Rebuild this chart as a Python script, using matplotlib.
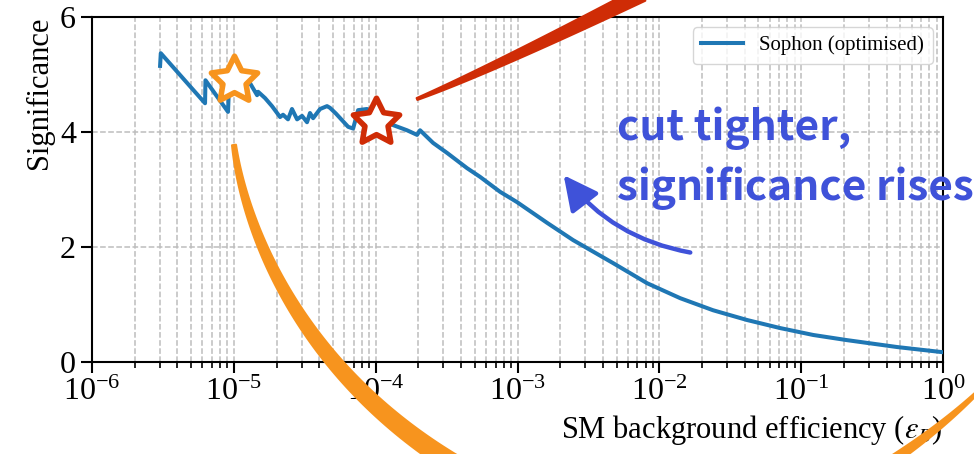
# Sophon significance vs SM background efficiency, with hand-drawn annotations.

import numpy as np
import matplotlib
matplotlib.use('Agg')
import matplotlib.pyplot as plt
from matplotlib.markers import MarkerStyle
from matplotlib.patches import Polygon, FancyArrowPatch

# log10 of the background efficiency and the significance
log_eff = [-5.52, -5.515, -5.203, -5.200, -5.041, -5.030, -4.886, -4.836, -4.829, -4.780,
           -4.731, -4.674, -4.653, -4.618, -4.590, -4.554, -4.519, -4.484, -4.463, -4.441,
           -4.392, -4.343, -4.322, -4.280, -4.194, -4.159, -4.124, -4.061, -3.969, -3.877,
           -3.779, -3.708, -3.687, -3.595, -3.496, -3.355, -3.264, -3.123, -3.003, -2.791,
           -2.608, -2.326, -2.086, -1.853, -1.621, -1.381, -1.148, -0.915, -0.676, -0.323,
           0.0]
signif = [5.15, 5.37, 4.50, 4.90, 4.35, 5.05, 4.85, 4.64, 4.70, 4.59,
          4.45, 4.26, 4.30, 4.22, 4.40, 4.22, 4.28, 4.17, 4.33, 4.24,
          4.40, 4.45, 4.42, 4.32, 4.09, 4.06, 4.38, 4.40, 4.30, 4.12,
          4.03, 3.95, 4.03, 3.81, 3.635, 3.37, 3.22, 2.96, 2.78, 2.42,
          2.12, 1.72, 1.37, 1.11, 0.90, 0.73, 0.59, 0.47, 0.38, 0.26,
          0.17]
label = 'Sophon (optimised)'

# the two highlighted working points
star_x = [1e-5, 1e-4]
star_y = [4.90, 4.17]

plt.rcParams['font.family'] = 'serif'
plt.rcParams['font.serif'] = ['Liberation Serif', 'DejaVu Serif']
plt.rcParams['mathtext.fontset'] = 'stix'

W, H = 974, 454
ORANGE, RED, BLUE = '#f7941e', '#cf2c06', '#3f52d9'

fig = plt.figure(figsize=(W / 100, H / 100), dpi=100)
ax = fig.add_axes([92 / W, 1 - 362 / H, (943 - 92) / W, (362 - 17) / H])

eff = 10.0 ** np.array(log_eff)
ax.plot(eff, signif, color='#1f77b4', lw=2.9, label=label, zorder=3)
star = MarkerStyle((5, 1, 0), joinstyle='round')
ax.plot(star_x[:1], star_y[:1], ls='none', marker=star, ms=35, mfc='white',
        mec=ORANGE, mew=4.0, zorder=5)
ax.plot(star_x[1:], star_y[1:], ls='none', marker=star, ms=35, mfc='white',
        mec=RED, mew=4.0, zorder=5)

ax.set_xscale('log')
ax.set_xlim(1e-6, 1)
ax.set_ylim(0, 6)
ax.set_yticks([0, 2, 4, 6])
ax.grid(True, which='both', axis='x', ls='--', color='#bdbdbd', lw=1.1)
ax.grid(True, which='major', axis='y', ls='--', color='#bdbdbd', lw=1.1)
ax.tick_params(which='major', length=8, width=1.5, labelsize=23)
ax.tick_params(which='minor', length=4.5, width=1.2)
for s in ax.spines.values():
    s.set_linewidth(1.5)
ax.set_xlabel(r'SM background efficiency ($\varepsilon_B$)', fontsize=22, loc='right')
ax.set_ylabel('Significance', fontsize=22, loc='top')
ax.legend(loc='upper right', fontsize=15)

#
# annotations, in picture pixels (y down)
#

def brush(pts, w0, w1, color):
    p = np.array(pts, float)
    t = np.linspace(0, 1, 80)[:, None]
    c = (1 - t)**3 * p[0] + 3 * (1 - t)**2 * t * p[1] + 3 * (1 - t) * t**2 * p[2] + t**3 * p[3]
    d = np.gradient(c, axis=0)
    n = np.c_[-d[:, 1], d[:, 0]] / np.hypot(d[:, 0], d[:, 1])[:, None]
    w = (w0 + (w1 - w0) * t) / 2
    poly = np.vstack([c + n * w, (c - n * w)[::-1]])
    poly[:, 0] /= W
    poly[:, 1] = 1 - poly[:, 1] / H
    fig.add_artist(Polygon(poly, closed=True, transform=fig.transFigure,
                           fc=color, ec=color, lw=1.5, joinstyle='round', zorder=10))

brush([(234, 145), (245, 230), (300, 370), (455, 465)], 4, 19, ORANGE)
brush([(985, 385), (960, 410), (930, 435), (893, 460)], 2, 9, ORANGE)
brush([(417, 99), (470, 78), (560, 35), (642, -6)], 2, 15, RED)

arr = FancyArrowPatch((693 / W, 1 - 253 / H), (562 / W, 1 - 173 / H),
                      transform=fig.transFigure, connectionstyle='arc3,rad=-0.2',
                      arrowstyle='-|>,head_length=1.0,head_width=0.5',
                      mutation_scale=21, lw=3.2, color=BLUE, zorder=11)
fig.add_artist(arr)

txt = dict(family=['Noto Sans CJK SC', 'DejaVu Sans'], weight='bold', fontsize=30.5,
           color=BLUE, va='baseline', zorder=12)
fig.text(617 / W, 1 - 140 / H, 'cut tighter,', **txt)
fig.text(617 / W, 1 - 200 / H, 'significance rises', **txt)

fig.savefig('out.png', dpi=100)
